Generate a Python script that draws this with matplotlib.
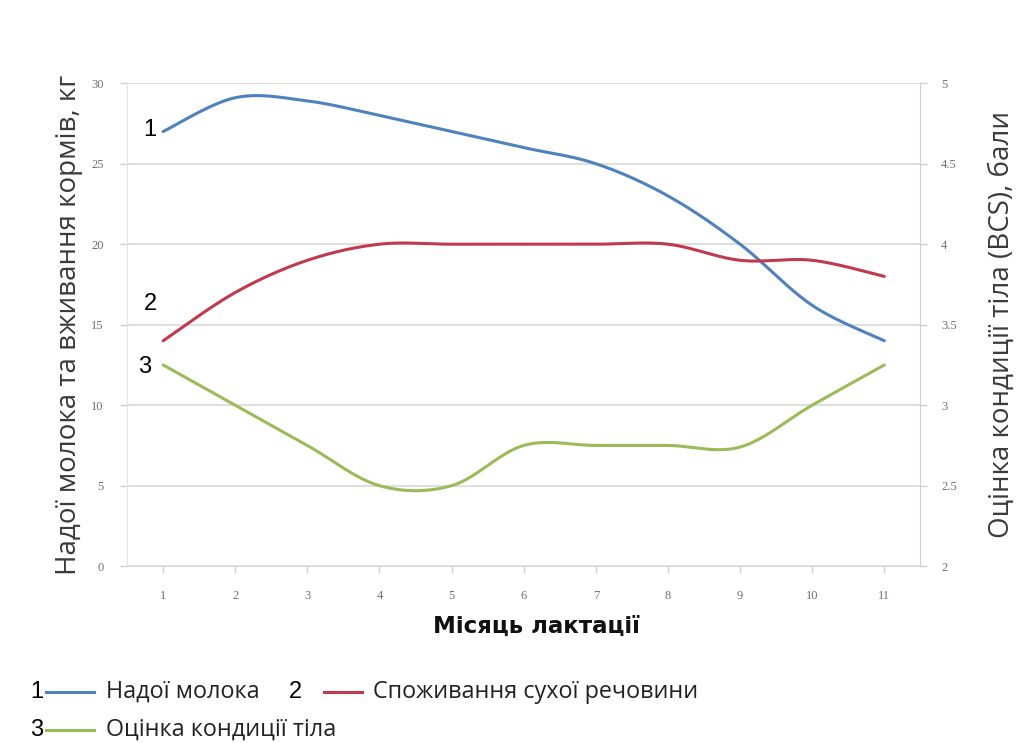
import numpy as np
import matplotlib
matplotlib.use('Agg')
import matplotlib.pyplot as plt
from matplotlib.lines import Line2D

# --------------------------------- #
# data

months = [1, 2, 3, 4, 5, 6, 7, 8, 9, 10, 11]
milk_yield = [27, 29.1, 28.9, 28, 27, 26, 25, 23, 20, 16.2, 14]
dry_matter = [14, 17, 19, 20, 20, 20, 20, 20, 19, 19, 18]
bcs = [3.25, 3.0, 2.75, 2.5, 2.5, 2.75, 2.75, 2.75, 2.74, 3.0, 3.25]

left_ticks = [0, 5, 10, 15, 20, 25, 30]
right_ticks = [2, 2.5, 3, 3.5, 4, 4.5, 5]
right_tick_labels = ['2', '2.5', '3', '3.5', '4', '4.5', '5']

series_names = ['Надої молока', 'Споживання сухої речовини', 'Оцінка кондиції тіла']
colors = ['#4f81bd', '#c0394d', '#9bbb59']


# --------------------------------- #


def smooth(x, y, n=40):
    # excel-like smoothed line (bezier through points, catmull-rom handles)
    x = np.asarray(x, float)
    y = np.asarray(y, float)
    px = np.concatenate([[x[0]], x, [x[-1]]])
    py = np.concatenate([[y[0]], y, [y[-1]]])
    t = np.linspace(0, 1, n)[:, None]
    xs, ys = [], []
    for i in range(1, len(px) - 2):
        p0 = np.array([px[i-1], py[i-1]])
        p1 = np.array([px[i], py[i]])
        p2 = np.array([px[i+1], py[i+1]])
        p3 = np.array([px[i+2], py[i+2]])
        c1 = p1 + (p2 - p0) / 6
        c2 = p2 - (p3 - p1) / 6
        b = ((1-t)**3)*p1 + 3*((1-t)**2)*t*c1 + 3*(1-t)*t**2*c2 + t**3*p2
        xs.append(b[:, 0])
        ys.append(b[:, 1])
    return np.concatenate(xs), np.concatenate(ys)


# --------------------------------- #

plt.rcParams['font.family'] = ['Open Sans', 'DejaVu Sans']

fig = plt.figure(figsize=(10.33, 7.43), dpi=100)
ax = fig.add_axes([0.123, 0.238, 0.768, 0.650])
ax2 = ax.twinx()

sx, sy = smooth(months, milk_yield)
ax.plot(sx, sy, color=colors[0], lw=2.2, solid_capstyle='round')
sx, sy = smooth(months, dry_matter)
ax.plot(sx, sy, color=colors[1], lw=2.2, solid_capstyle='round')
sx, sy = smooth(months, bcs)
ax2.plot(sx, sy, color=colors[2], lw=2.2, solid_capstyle='round')

ax.set_xlim(0.5, 11.5)
ax.set_ylim(0, 30)
ax2.set_ylim(2, 5)
ax.set_xticks(months)
ax.set_yticks(left_ticks)
ax2.set_yticks(right_ticks)
ax2.set_yticklabels(right_tick_labels)

ax.grid(axis='y', color='#d9d9d9', lw=1.2)
ax.set_axisbelow(True)

for a in (ax, ax2):
    a.spines['top'].set_visible(False)
    a.spines['left'].set_color('#e3e3e3')
    a.spines['right'].set_color('#d0d0d0')
    a.spines['bottom'].set_color('#d9d9d9')
    a.tick_params(colors='#cfcfcf', labelcolor='#6f6f6f', length=5, width=1)
ax.spines['right'].set_visible(False)
ax2.spines['left'].set_visible(False)
ax2.spines['bottom'].set_visible(False)
ax.tick_params(axis='y', pad=12)
ax.tick_params(axis='x', pad=12)
ax2.tick_params(axis='y', pad=10)
for lab in ax.get_xticklabels() + ax.get_yticklabels() + ax2.get_yticklabels():
    lab.set_fontfamily('Liberation Serif')
    lab.set_fontsize(9)

ax.set_ylabel('Надої молока та вживання кормів, кг', fontsize=20, color='#3a3a3a', labelpad=6)
ax2.set_ylabel('Оцінка кондиції тіла (BCS), бали', fontsize=20, color='#3a3a3a', labelpad=22)
ax.set_xlabel('Місяць лактації', fontsize=16.5, fontweight='bold', family=['DejaVu Sans'],
              color='#111111', labelpad=8)
ax.xaxis.set_label_coords(0.516, -0.1)

# series numbers next to line starts
num_font = dict(fontsize=17, ha='right', va='center', family=['Liberation Sans'])
ax.text(0.91, 27.1, '1', **num_font)
ax.text(0.92, 16.3, '2', **num_font)
ax.text(0.83, 12.4, '3', **num_font)

# legend by hand, figure coordinates
W, H = 1033, 743
def legend_item(num, x_num, x_line, line_len, x_text, y, name, color):
    fig.text(x_num / W, 1 - y / H, num, fontsize=17, ha='left', va='center', family=['Liberation Sans'])
    fig.add_artist(Line2D([x_line / W, (x_line + line_len) / W], [1 - y / H, 1 - y / H],
                          color=color, lw=2.2, transform=fig.transFigure))
    fig.text(x_text / W, 1 - y / H, name, fontsize=16.8, ha='left', va='center', color='#222222')

legend_item('1', 30, 46, 48, 106, 692, series_names[0], colors[0])
legend_item('2', 289, 324, 38, 373, 692, series_names[1], colors[1])
legend_item('3', 30, 46, 48, 106, 730, series_names[2], colors[2])

fig.savefig('out.png', dpi=100)
